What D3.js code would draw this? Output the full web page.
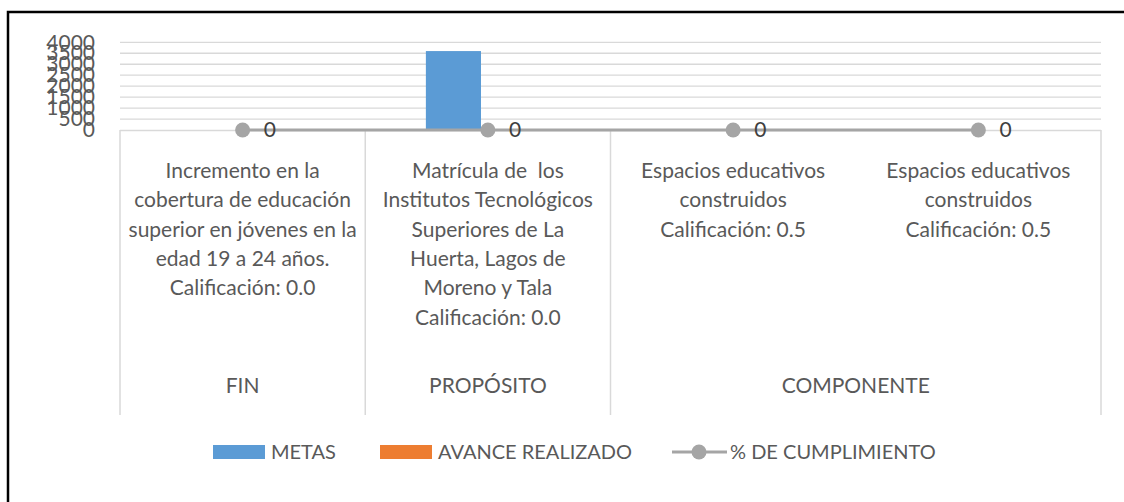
<!DOCTYPE html>
<html>
<head>
<meta charset="utf-8">
<script src="https://cdn.jsdelivr.net/npm/d3@7"></script>
<style>
  html, body { margin: 0; padding: 0; background: #fff; }
  svg { display: block; font-family: Lato, "Open Sans", sans-serif; }
  .keep-spaces { white-space: pre; }
</style>
</head>
<body>
<svg id="chart" width="1124" height="502"></svg>
<script>
// chart data
const subCategories = [
  ["Incremento en la", "cobertura de educación", "superior en jóvenes en la", "edad 19 a 24 años.", "Calificación: 0.0"],
  ["Matrícula de  los", "Institutos Tecnológicos", "Superiores de La", "Huerta, Lagos de", "Moreno y Tala", "Calificación: 0.0"],
  ["Espacios educativos", "construidos", "Calificación: 0.5"],
  ["Espacios educativos", "construidos", "Calificación: 0.5"]
];
const groupNames = ["FIN", "PROPÓSITO", "COMPONENTE"];
const groupOf = [0, 1, 2, 2];
const seriesNames = ["METAS", "AVANCE REALIZADO", "% DE CUMPLIMIENTO"];
const metas = [0, 3600, 0, 0];
const avance = [0, 0, 0, 0];
const cumplimiento = [0, 0, 0, 0];
const yTickValues = [0, 500, 1000, 1500, 2000, 2500, 3000, 3500, 4000];

const colors = { metas: "#5B9BD5", avance: "#ED7D31", line: "#A5A5A5" };
const textColor = "#595959";
const gridColor = "#D9D9D9";
const fontSize = 21;

const svg = d3.select("#chart");

// outer frame (only top and left edge are inside the picture)
svg.append("rect")
  .attr("x", 8).attr("y", 12)
  .attr("width", 1140).attr("height", 520)
  .attr("fill", "none").attr("stroke", "#000").attr("stroke-width", 2.5);

const plot = { left: 120, right: 1101, top: 42.3, bottom: 130 };

const idx = d3.range(subCategories.length);
const x = d3.scaleBand().domain(idx).range([plot.left, plot.right]);
const xs = d3.scaleBand().domain([0, 1])
  .range([-62, 62]).paddingInner(0.2);
const y = d3.scaleLinear().domain([0, 4000]).range([plot.bottom, plot.top]);
const y2 = d3.scaleLinear().domain([0, 1]).range([plot.bottom, plot.top]);

// gridlines
svg.append("g")
  .selectAll("line")
  .data(yTickValues.filter(d => d > 0))
  .join("line")
  .attr("x1", plot.left).attr("x2", plot.right)
  .attr("y1", d => y(d)).attr("y2", d => y(d))
  .attr("stroke", gridColor).attr("stroke-width", 1.3);

// y axis labels
const yAxis = svg.append("g")
  .attr("transform", `translate(${plot.left - 25},0)`)
  .call(d3.axisLeft(y).tickValues(yTickValues).tickFormat(d3.format("d"))
    .tickSize(0).tickPadding(0));
yAxis.select(".domain").remove();
yAxis.selectAll("text")
  .attr("fill", textColor)
  .style("font-size", "21px")
  .style("font-family", "Lato, sans-serif");

// bars
const barSeries = [metas, avance];
const barColors = [colors.metas, colors.avance];
barSeries.forEach((vals, s) => {
  svg.append("g")
    .selectAll("rect")
    .data(vals)
    .join("rect")
    .attr("x", (d, i) => x(i) + x.bandwidth() / 2 + xs(s))
    .attr("width", xs.bandwidth())
    .attr("y", d => y(d))
    .attr("height", d => y(0) - y(d))
    .attr("fill", barColors[s]);
});

// category axis: baseline and separators
const axisG = svg.append("g").attr("stroke", gridColor).attr("stroke-width", 1.5);
axisG.append("line")
  .attr("x1", plot.left).attr("x2", plot.right)
  .attr("y1", plot.bottom + 0.5).attr("y2", plot.bottom + 0.5);
const separators = [0];
idx.forEach(i => {
  if (i === idx.length - 1 || groupOf[i] !== groupOf[i + 1]) separators.push(i + 1);
});
axisG.selectAll("line.sep")
  .data(separators)
  .join("line")
  .attr("class", "sep")
  .attr("x1", d => d < idx.length ? x(d) : plot.right)
  .attr("x2", d => d < idx.length ? x(d) : plot.right)
  .attr("y1", plot.bottom).attr("y2", 415);

// sub-category labels
const lineHeight = 29.3;
const labelG = svg.append("g")
  .attr("fill", textColor)
  .style("font-size", fontSize + "px")
  .attr("text-anchor", "middle");
subCategories.forEach((lines, i) => {
  labelG.append("text")
    .attr("class", "keep-spaces")
    .selectAll("tspan")
    .data(lines)
    .join("tspan")
    .attr("x", x(i) + x.bandwidth() / 2)
    .attr("y", (d, j) => 170.7 + j * lineHeight)
    .attr("dy", "0.35em")
    .text(d => d);
});

// group labels
groupNames.forEach((g, gi) => {
  const members = idx.filter(i => groupOf[i] === gi);
  const x0 = x(members[0]);
  const x1 = x(members[members.length - 1]) + x.bandwidth();
  labelG.append("text")
    .attr("x", (x0 + x1) / 2)
    .attr("y", 385.7)
    .attr("dy", "0.35em")
    .text(g);
});

// % line
const line = d3.line()
  .x((d, i) => x(i) + x.bandwidth() / 2)
  .y(d => y2(d));
svg.append("path")
  .datum(cumplimiento)
  .attr("d", line)
  .attr("fill", "none")
  .attr("stroke", colors.line)
  .attr("stroke-width", 3.2);
svg.append("g")
  .selectAll("circle")
  .data(cumplimiento)
  .join("circle")
  .attr("cx", (d, i) => x(i) + x.bandwidth() / 2)
  .attr("cy", d => y2(d))
  .attr("r", 7.5)
  .attr("fill", colors.line);
svg.append("g")
  .selectAll("text")
  .data(cumplimiento)
  .join("text")
  .attr("x", (d, i) => x(i) + x.bandwidth() / 2 + 21)
  .attr("y", d => y2(d))
  .attr("dy", "0.35em")
  .attr("fill", "#404040")
  .style("font-size", "21px")
  .text(d => d);

// legend
const legendY = 452;
const legend = svg.append("g")
  .attr("fill", textColor)
  .style("font-size", "20px");
const legendItems = [
  { name: seriesNames[0], x: 213, type: "rect", color: colors.metas },
  { name: seriesNames[1], x: 380, type: "rect", color: colors.avance },
  { name: seriesNames[2], x: 672, type: "line", color: colors.line }
];
legendItems.forEach(item => {
  if (item.type === "rect") {
    legend.append("rect")
      .attr("x", item.x).attr("y", legendY - 7)
      .attr("width", 52).attr("height", 14)
      .attr("fill", item.color);
  } else {
    legend.append("line")
      .attr("x1", item.x).attr("x2", item.x + 55)
      .attr("y1", legendY).attr("y2", legendY)
      .attr("stroke", item.color).attr("stroke-width", 3.2);
    legend.append("circle")
      .attr("cx", item.x + 27).attr("cy", legendY)
      .attr("r", 7.5).attr("fill", item.color);
  }
  legend.append("text")
    .attr("x", item.x + 58)
    .attr("y", legendY)
    .attr("dy", "0.35em")
    .text(item.name);
});
</script>
</body>
</html>
